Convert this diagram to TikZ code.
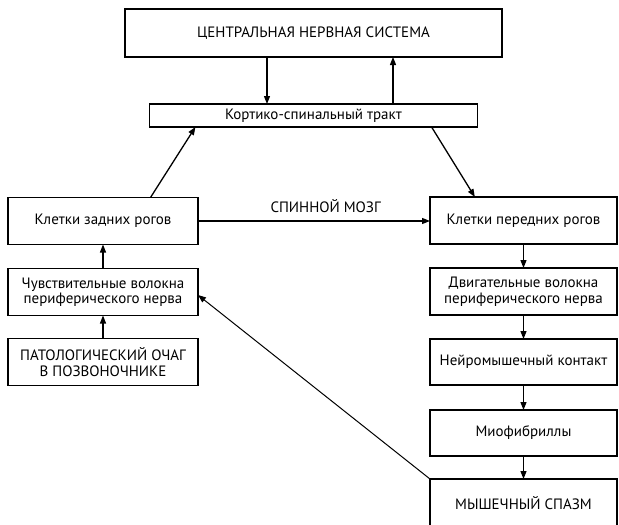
\documentclass[tikz,border=0pt]{standalone}
\usepackage{fontspec}
\setmainfont{PT Sans}
\usepackage{tikz}
\usetikzlibrary{arrows.meta,positioning,calc}

\begin{document}
\begin{tikzpicture}[x=1pt,y=1pt,>={Triangle[length=8pt,width=6pt]},
    box/.style={draw, rectangle, line width=1.5pt, inner sep=2pt, outer sep=0pt, align=center, font=\fontsize{15}{15.5}\selectfont},
    link/.style={->, line width=1.3pt}]
        \tikzstyle{lbox} = [box, minimum width=190pt, minimum height=47pt]
        \tikzstyle{rbox} = [box, minimum width=187pt, minimum height=47pt]
        \useasboundingbox (0,0) rectangle (619,-525);
        \clip (0,0) rectangle (619,-525);
        \node[box, minimum width=377pt, minimum height=48pt] (cns) at (313.5,-33) {ЦЕНТРАЛЬНАЯ НЕРВНАЯ СИСТЕМА};
        \node[box, minimum width=328pt, minimum height=23pt, below = 47pt of cns] (ct) {Кортико-спинальный тракт};
        \node[lbox] (zr) at (103,-221) {Клетки задних рогов};
        \node[lbox, below = 24pt of zr] (chv) {Чувствительные волокна\\периферического нерва};
        \node[lbox, below = 23pt of chv] (pat) {ПАТОЛОГИЧЕСКИЙ ОЧАГ\\В ПОЗВОНОЧНИКЕ};
        \node[rbox] (pr) at (523.5,-220.5) {Клетки передних рогов};
        \node[rbox, below = 24pt of pr] (dv) {Двигательные волокна\\периферического нерва};
        \node[rbox, below = 24pt of dv, minimum height=46pt] (nm) {Нейромышечный контакт};
        \node[rbox, below = 25pt of nm, minimum height=46pt] (mf) {Миофибриллы};
        \node[rbox, below = 23pt of mf, minimum height=48pt] (ms) {МЫШЕЧНЫЙ СПАЗМ};

        \coordinate (cdn) at ([xshift=-46.5pt]cns.south);
        \coordinate (cup) at ([xshift=79.5pt]cns.south);
        \coordinate (zrt) at ($(zr.north west)!0.75!(zr.north east)$);
        \coordinate (ctl) at ($(ct.south west)!0.14!(ct.south east)$);
        \coordinate (ctr) at ($(ct.south west)!0.86!(ct.south east)$);
        \coordinate (prt) at ($(pr.north west)!0.24!(pr.north east)$);

        \draw [link] (cdn) -- (cdn |- ct.north);
        \draw [link] (cup |- ct.north) -- (cup);
        \draw [link] (zrt) -- (ctl);
        \draw [link] (ctr) -- (prt);
        \draw [link] (zr.east) -- node[pos=0.55, above=4pt, font=\fontsize{15}{15.5}\selectfont] (sm) {СПИННОЙ МОЗГ} (zr.east -| pr.west);
        \draw [link] (chv) -- (zr);
        \draw [link] (pat) -- (chv);
        \draw [link] (pr) -- (dv);
        \draw [link] (dv) -- (nm);
        \draw [link] (nm) -- (mf);
        \draw [link] (mf) -- (ms);
        \draw [->, line width=1pt] (ms.north west) -- ([yshift=-3pt]chv.east);
\end{tikzpicture}
\end{document}
